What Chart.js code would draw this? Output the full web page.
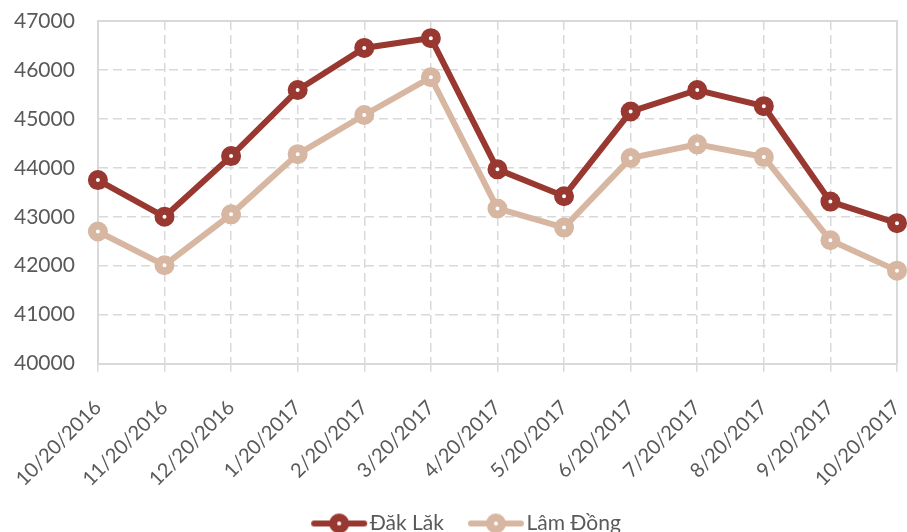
<!DOCTYPE html>
<html>
<head>
<meta charset="utf-8">
<script src="https://cdn.jsdelivr.net/npm/chart.js@4"></script>
<style>
  html, body { margin: 0; padding: 0; background: #fff; }
  #wrap { width: 907px; height: 532px; }
</style>
</head>
<body>
<div id="wrap"><canvas id="priceChart"></canvas></div>
<script>
const dates = ['10/20/2016', '11/20/2016', '12/20/2016', '1/20/2017', '2/20/2017', '3/20/2017',
  '4/20/2017', '5/20/2017', '6/20/2017', '7/20/2017', '8/20/2017', '9/20/2017', '10/20/2017'];
const dakLak = [43750, 43000, 44240, 45590, 46450, 46650, 43970, 43420, 45150, 45590, 45260, 43310, 42870];
const lamDong = [42700, 42010, 43050, 44280, 45080, 45850, 43170, 42780, 44200, 44480, 44220, 42520, 41900];

const darkRed = '#983830';
const lightTan = '#d7b6a2';
const gridGrey = '#d9d9d9';
const textGrey = '#595959';

// legend marker: short line with a ringed dot, drawn at the right end of
// a wider transparent canvas so it sits right next to the legend text
function legendMarker(color) {
  const c = document.createElement('canvas');
  c.width = 80;
  c.height = 22;
  const g = c.getContext('2d');
  g.strokeStyle = color;
  g.lineWidth = 6;
  g.lineCap = 'round';
  g.beginPath();
  g.moveTo(26, 11);
  g.lineTo(76, 11);
  g.stroke();
  g.beginPath();
  g.arc(51, 11, 6, 0, Math.PI * 2);
  g.fillStyle = '#fff';
  g.fill();
  g.lineWidth = 8;
  g.stroke();
  return c;
}

// solid frame on top and right of the plot area, legend nudged right like the original
const plotFrame = {
  id: 'plotFrame',
  afterLayout(chart) {
    chart.legend.left += 15;
    chart.legend.right += 15;
  },
  beforeDatasetsDraw(chart) {
    const a = chart.chartArea;
    const ctx = chart.ctx;
    ctx.save();
    ctx.strokeStyle = gridGrey;
    ctx.lineWidth = 2;
    ctx.beginPath();
    ctx.moveTo(a.left, a.top);
    ctx.lineTo(a.right, a.top);
    ctx.lineTo(a.right, a.bottom);
    ctx.stroke();
    ctx.restore();
  }
};

function series(label, data, color) {
  return {
    label: label,
    data: data,
    borderColor: color,
    backgroundColor: color,
    borderWidth: 6,
    pointRadius: 6,
    pointBorderWidth: 8,
    pointBackgroundColor: '#fff',
    pointBorderColor: color,
    pointHoverRadius: 6,
    tension: 0
  };
}

const markers = [legendMarker(darkRed), legendMarker(lightTan)];

new Chart(document.getElementById('priceChart'), {
  type: 'line',
  data: {
    labels: dates,
    datasets: [series('Đăk Lăk', dakLak, darkRed), series('Lâm Đồng', lamDong, lightTan)]
  },
  options: {
    responsive: true,
    maintainAspectRatio: false,
    animation: false,
    layout: { autoPadding: false, padding: { top: 21, right: 10, left: -9, bottom: -12 } },
    scales: {
      x: {
        offset: false,
        grid: {
          color: gridGrey,
          lineWidth: 1.5,
          tickLength: 8,
          tickColor: gridGrey
        },
        border: { display: true, color: gridGrey, width: 2, dash: [9, 5] },
        ticks: {
          color: textGrey,
          font: { family: 'Lato', size: 20 },
          minRotation: 45,
          maxRotation: 45,
          autoSkip: false,
          padding: 24
        },
        afterFit(scale) {
          scale.height -= 12;
          scale.paddingLeft = 0;
          scale.paddingRight = 0;
        }
      },
      y: {
        min: 40000,
        max: 47000,
        grid: {
          color: gridGrey,
          lineWidth: 1.5,
          drawTicks: false
        },
        border: { display: true, color: gridGrey, width: 2, dash: [9, 5] },
        ticks: {
          stepSize: 1000,
          color: textGrey,
          font: { family: 'Lato', size: 21 },
          padding: 23,
          callback: v => String(v)
        },
        afterFit(scale) {
          scale.paddingTop = 0;
          scale.paddingBottom = 0;
        }
      }
    },
    plugins: {
      legend: {
        position: 'bottom',
        labels: {
          usePointStyle: true,
          pointStyleWidth: 62,
          padding: 10,
          color: textGrey,
          font: { family: 'Lato', size: 21 },
          generateLabels(chart) {
            return chart.data.datasets.map((ds, i) => ({
              text: ds.label,
              pointStyle: markers[i],
              fillStyle: ds.borderColor,
              strokeStyle: ds.borderColor,
              fontColor: textGrey,
              lineWidth: 0,
              hidden: false,
              datasetIndex: i
            }));
          }
        }
      },
      tooltip: { enabled: false }
    }
  },
  plugins: [plotFrame]
});
</script>
</body>
</html>
